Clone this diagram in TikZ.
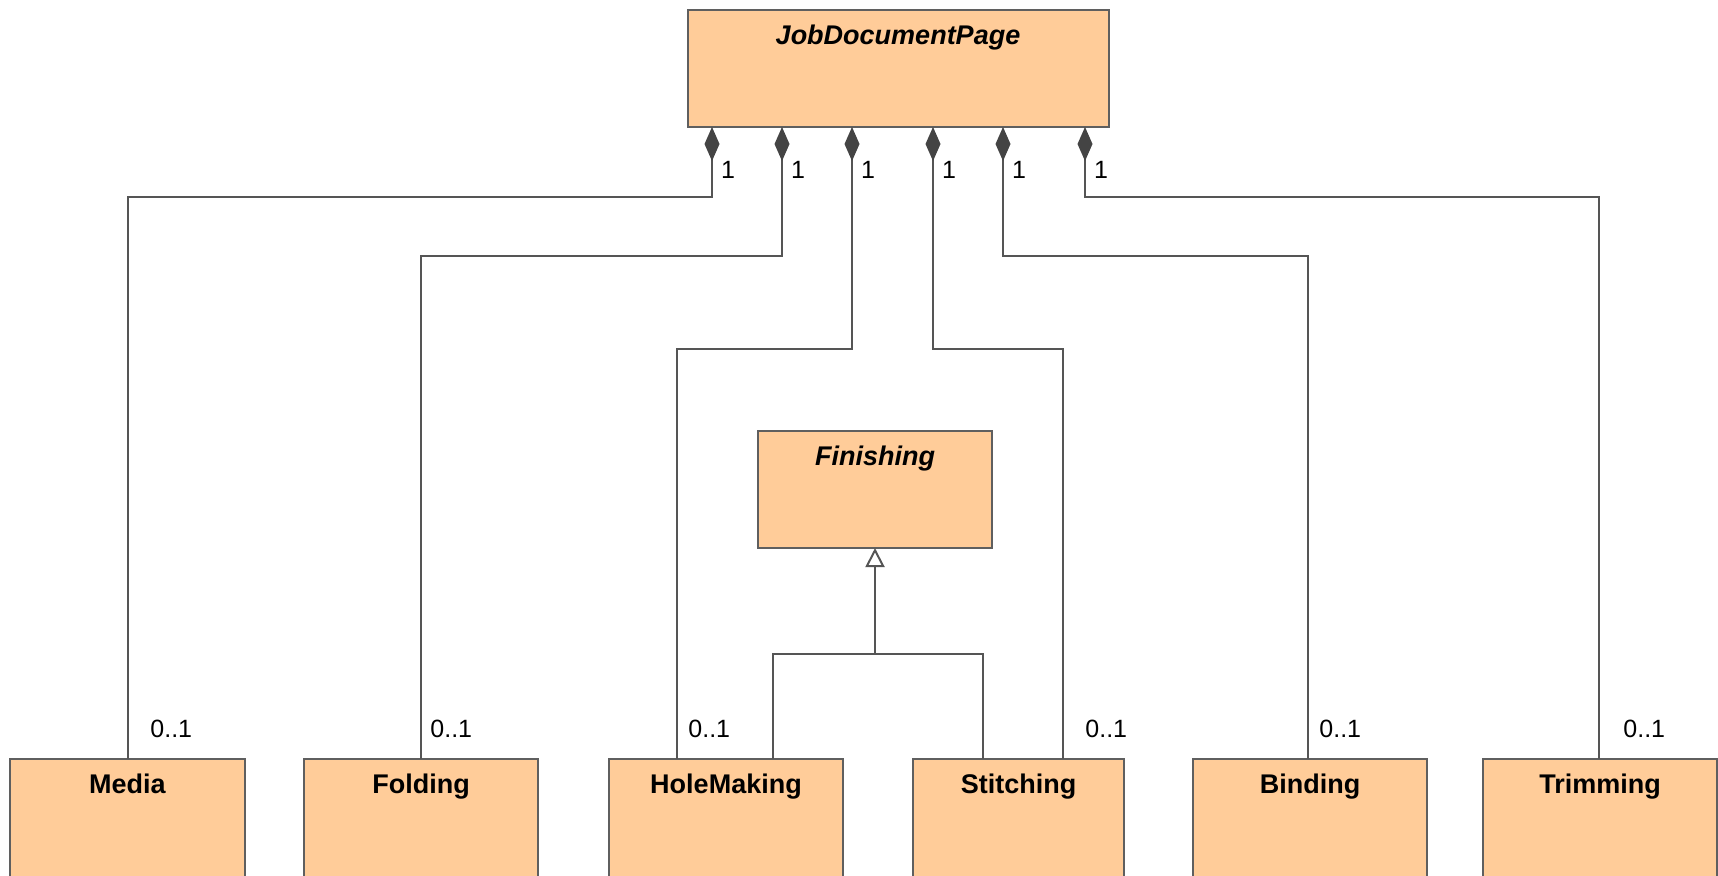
\documentclass[tikz,border=0pt]{standalone}
\usepackage{fontspec}
\setmainfont{Liberation Sans}
\usetikzlibrary{arrows.meta,calc}
\definecolor{clsfill}{HTML}{FFCC99}
\definecolor{clsdraw}{HTML}{5F5F5F}
\definecolor{connc}{HTML}{555555}
\definecolor{diamc}{HTML}{444444}
\begin{document}
\begin{tikzpicture}[x=0.5pt,y=-0.5pt,
  cls/.style={rectangle, draw=clsdraw, fill=clsfill, line width=1pt, outer sep=0pt, inner sep=0pt, anchor=north west},
  title/.style={font=\fontsize{13.5}{16}\selectfont\bfseries, anchor=base, inner sep=0pt},
  atitle/.style={font=\fontsize{13.5}{16}\selectfont\bfseries\itshape, anchor=base, inner sep=0pt},
  mult/.style={font=\fontsize{12.5}{15}\selectfont, inner sep=0pt},
  conn/.style={draw=connc, line width=1pt},
  comp/.style={conn, {Diamond[length=17pt,width=7.5pt,fill=diamc,color=diamc]}-},
  gen/.style={conn, -{Triangle[open,length=9.5pt,width=9.5pt,fill=white]}},
]
\useasboundingbox (0,0) rectangle (1718,875);
\clip (0,0) rectangle (1718,875);

% classes
\node[cls, minimum width=210.5pt, minimum height=58.5pt] (jdp) at (688,10) {};
\node[atitle] (jdp-t) at (898,44) {JobDocumentPage};

\node[cls, minimum width=117pt, minimum height=58.5pt] (fin) at (758,431) {};
\node[atitle] (fin-t) at (875,465) {Finishing};

\node[cls, minimum width=117.5pt, minimum height=66pt] (media) at (10,759) {};
\node[title] (media-t) at (127.5,793) {Media};

\node[cls, minimum width=117pt, minimum height=66pt] (fold) at (304,759) {};
\node[title] (fold-t) at (421,793) {Folding};

\node[cls, minimum width=117pt, minimum height=66pt] (hole) at (609,759) {};
\node[title] (hole-t) at (726,793) {HoleMaking};

\node[cls, minimum width=105.5pt, minimum height=66pt] (stitch) at (913,759) {};
\node[title] (stitch-t) at (1018.5,793) {Stitching};

\node[cls, minimum width=117pt, minimum height=66pt] (bind) at (1193,759) {};
\node[title] (bind-t) at (1310,793) {Binding};

\node[cls, minimum width=117pt, minimum height=66pt] (trim) at (1483,759) {};
\node[title] (trim-t) at (1600,793) {Trimming};

% compositions
\draw[comp] ($(jdp.south west)+(24,0)$) -- ($(jdp.south west)+(24,70)$) -| (media.north);
\draw[comp] ($(jdp.south west)+(94,0)$) -- ($(jdp.south west)+(94,129)$) -| (fold.north);
\draw[comp] ($(jdp.south west)+(164,0)$) -- ($(jdp.south west)+(164,222)$) -| ($(hole.north west)+(68,0)$);
\draw[comp] ($(jdp.south west)+(245,0)$) -- ($(jdp.south west)+(245,222)$) -| ($(stitch.north west)+(150,0)$);
\draw[comp] ($(jdp.south west)+(315,0)$) -- ($(jdp.south west)+(315,129)$) -| ($(bind.north)+(-2,0)$);
\draw[comp] ($(jdp.south west)+(397,0)$) -- ($(jdp.south west)+(397,70)$) -| ($(trim.north)+(-1,0)$);

% multiplicities
\node[mult] (m1) at (728,170) {1};
\node[mult] (m2) at (798,170) {1};
\node[mult] (m3) at (868,170) {1};
\node[mult] (m4) at (949,170) {1};
\node[mult] (m5) at (1019,170) {1};
\node[mult] (m6) at (1101,170) {1};

\node[mult, anchor=west] (n1) at (150,729) {0..1};
\node[mult, anchor=west] (n2) at (430,729) {0..1};
\node[mult, anchor=west] (n3) at (688,729) {0..1};
\node[mult, anchor=west] (n4) at (1085,729) {0..1};
\node[mult, anchor=west] (n5) at (1319,729) {0..1};
\node[mult, anchor=west] (n6) at (1623,729) {0..1};

% generalization
\coordinate (gj) at (875,654);
\draw[conn] ($(hole.north west)+(164,0)$) |- (gj) -| ($(stitch.north west)+(70,0)$);
\draw[gen] (gj) -- (fin.south);
\end{tikzpicture}
\end{document}
